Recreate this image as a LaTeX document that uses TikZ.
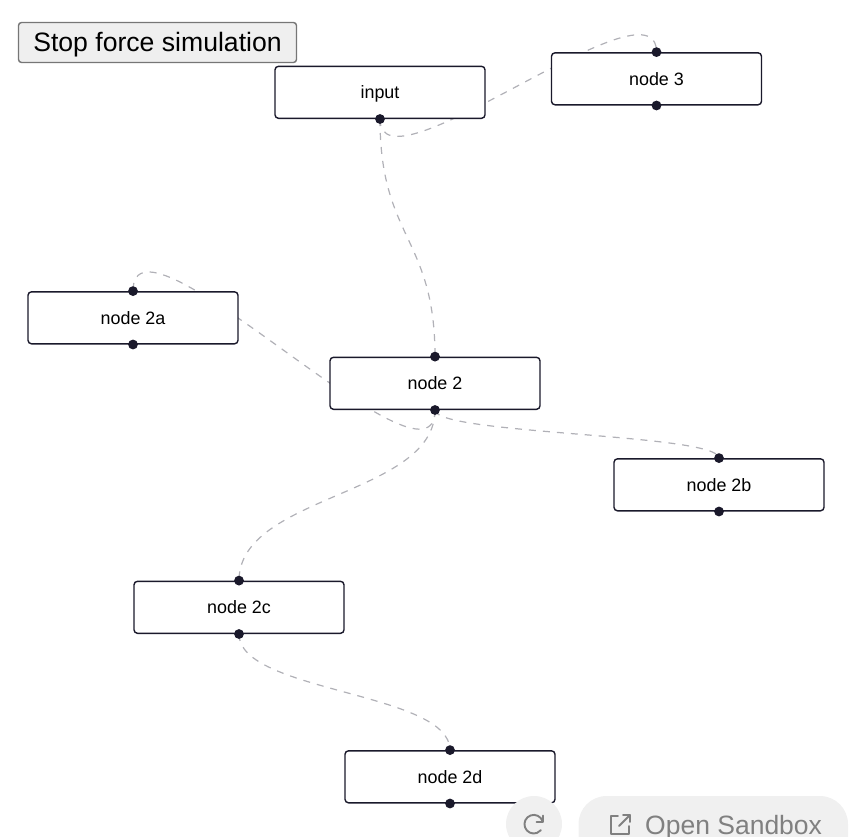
\documentclass[tikz,border=0pt]{standalone}
\usepackage{fontspec}
\setmainfont{Liberation Sans}
\usetikzlibrary{backgrounds}
\definecolor{flowdark}{HTML}{1A192B}
\definecolor{flowedgegray}{HTML}{B1B1B7}
\definecolor{btnborder}{HTML}{767676}
\definecolor{btnfill}{HTML}{EFEFEF}
\definecolor{pillfill}{HTML}{F0F0F0}
\definecolor{pilltext}{HTML}{808080}
\tikzset{
  flownode/.style={draw=flowdark,fill=white,line width=1.4pt,rounded corners=3.5pt,
    minimum width=210pt,minimum height=52pt,inner sep=0pt,text height=15pt,text depth=2pt,
    font=\fontsize{17.9}{20}\selectfont},
  handle/.style={circle,fill=flowdark,minimum size=9.8pt,inner sep=0pt},
  flowedge/.style={draw=flowedgegray,line width=1.2pt,dash pattern=on 7pt off 7pt},
  bez/.style={to path={.. controls +(0,#1) and +(0,-#1) .. (\tikztotarget)}},
  iconline/.style={draw=pilltext,line width=1.9pt,line cap=round,line join=round}
}
\begin{document}
\begin{tikzpicture}[x=1pt,y=-1pt]
    \useasboundingbox (0,0) rectangle (856,836);
    \node[draw=btnborder,fill=btnfill,line width=1.4pt,rounded corners=3pt,minimum width=278pt,
      minimum height=40pt,inner sep=0pt,text height=24pt,text depth=6pt,
      font=\fontsize{26.6}{30}\selectfont] (stopbtn) at (157.5,42.5) {Stop force simulation};

    \node[flownode] (input) at (380,92.3) {input};
    \node[flownode] (n3) at (656.5,78.8) {node 3};
    \node[flownode] (n2a) at (133,317.8) {node 2a};
    \node[flownode] (n2) at (435,383.3) {node 2};
    \node[flownode] (n2b) at (719,484.8) {node 2b};
    \node[flownode] (n2c) at (239,607.3) {node 2c};
    \node[flownode] (n2d) at (450,776.8) {node 2d};

    \node[handle] (inputout) at (input.south) {};
    \node[handle] (n3in) at (n3.north) {};
    \node[handle] (n3out) at (n3.south) {};
    \node[handle] (n2ain) at (n2a.north) {};
    \node[handle] (n2aout) at (n2a.south) {};
    \node[handle] (n2in) at (n2.north) {};
    \node[handle] (n2out) at (n2.south) {};
    \node[handle] (n2bin) at (n2b.north) {};
    \node[handle] (n2bout) at (n2b.south) {};
    \node[handle] (n2cin) at (n2c.north) {};
    \node[handle] (n2cout) at (n2c.south) {};
    \node[handle] (n2din) at (n2d.north) {};
    \node[handle] (n2dout) at (n2d.south) {};

    \begin{scope}[on background layer]
      \path[flowedge]
        (inputout.center) edge[bez=119.5] (n2in.center)
        (inputout.center) edge[bez=80] (n3in.center)
        (n2out.center) edge[bez=98] (n2ain.center)
        (n2out.center) edge[bez=24.5] (n2bin.center)
        (n2out.center) edge[bez=86] (n2cin.center)
        (n2cout.center) edge[bez=58.5] (n2din.center);
    \end{scope}

    % sandbox buttons
    \fill[pillfill] (534,824) circle (28);
    \fill[pillfill,rounded corners=28pt] (578.5,796) rectangle (848,880);
    \draw[iconline] (542.5,821) arc (-20:-320:9.3);
    \draw[iconline] (543,815.5) -- (543,822) -- (536.5,822);
    \draw[iconline] (618,816) -- (611,816) -- (611,834) -- (629,834) -- (629,826);
    \draw[iconline] (619,826) -- (630,815);
    \draw[iconline] (623,815) -- (630,815) -- (630,822);
    \node[text=pilltext,inner sep=0pt,anchor=base west,font=\fontsize{26.5}{30}\selectfont]
      (sandbox) at (645,834) {Open Sandbox};
\end{tikzpicture}
\end{document}
